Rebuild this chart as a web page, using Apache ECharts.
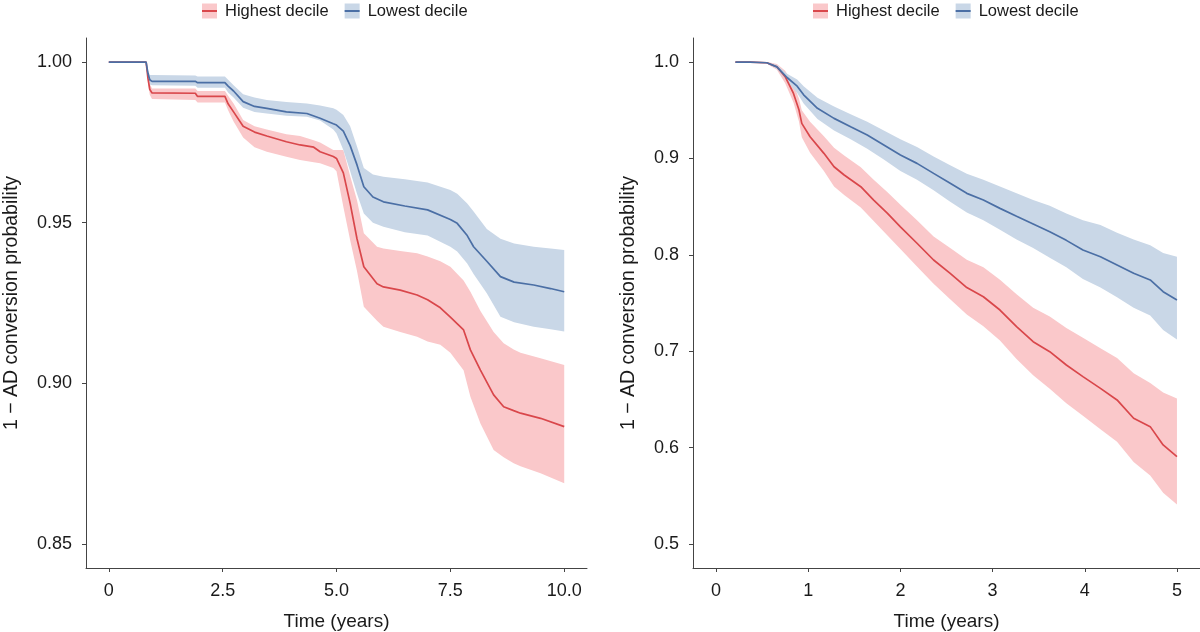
<!DOCTYPE html>
<html>
<head>
<meta charset="utf-8">
<script src="https://cdn.jsdelivr.net/npm/echarts@6/dist/echarts.min.js"></script>
<style>html,body{margin:0;padding:0;background:#fff;}#c{width:1200px;height:632px;}</style>
</head>
<body>
<div id="c"></div>
<script>
// ---------- Data ----------
const seriesNames = ['Highest decile', 'Lowest decile'];
const yTitle = '1 \u2212 AD conversion probability';
const xTitle = 'Time (years)';

// Left panel ticks
const leftXTicks = [0, 2.5, 5, 7.5, 10];
const leftXTickLabels = ['0', '2.5', '5.0', '7.5', '10.0'];
const leftYTicks = [0.85, 0.90, 0.95, 1.00];
const leftYTickLabels = ['0.85', '0.90', '0.95', '1.00'];
// Right panel ticks
const rightXTicks = [0, 1, 2, 3, 4, 5];
const rightXTickLabels = ['0', '1', '2', '3', '4', '5'];
const rightYTicks = [0.5, 0.6, 0.7, 0.8, 0.9, 1.0];
const rightYTickLabels = ['0.5', '0.6', '0.7', '0.8', '0.9', '1.0'];

// Left panel, highest decile
const leftHighTime  = [0, 0.82, 0.86, 0.9, 0.95, 1.9, 1.95, 2.55, 2.62, 2.74, 2.95, 3.2, 3.47, 3.9, 4.2, 4.5, 4.64, 4.93, 5.0, 5.15, 5.3, 5.45, 5.6, 5.89, 6.03, 6.4, 6.77, 7.0, 7.28, 7.5, 7.79, 7.94, 8.16, 8.45, 8.67, 8.89, 9.04, 9.48, 10.0];
const leftHighLine  = [1.0, 1.0, 0.9950, 0.9915, 0.9904, 0.9903, 0.9893, 0.9893, 0.9870, 0.9845, 0.9800, 0.9782, 0.9770, 0.9752, 0.9742, 0.9735, 0.9721, 0.9706, 0.9700, 0.9655, 0.9560, 0.9450, 0.9363, 0.9310, 0.9300, 0.9290, 0.9275, 0.9260, 0.9235, 0.9206, 0.9166, 0.9104, 0.9041, 0.8964, 0.8927, 0.8915, 0.8907, 0.8891, 0.8865];
const leftHighUpper = [1.0, 1.0, 0.9965, 0.9932, 0.9918, 0.9918, 0.9910, 0.9910, 0.9895, 0.9871, 0.9820, 0.9800, 0.9790, 0.9775, 0.9770, 0.9757, 0.9750, 0.9726, 0.9726, 0.9726, 0.9645, 0.9570, 0.9467, 0.9425, 0.9420, 0.9412, 0.9405, 0.9395, 0.9380, 0.9363, 0.9320, 0.9285, 0.9225, 0.9160, 0.9125, 0.9105, 0.9095, 0.9078, 0.9057];
const leftHighLower = [1.0, 1.0, 0.9935, 0.9898, 0.9885, 0.9882, 0.9874, 0.9874, 0.9850, 0.9815, 0.9765, 0.9735, 0.9721, 0.9705, 0.9695, 0.9688, 0.9685, 0.9670, 0.9660, 0.9550, 0.9445, 0.9350, 0.9238, 0.9195, 0.9176, 0.9160, 0.9145, 0.9130, 0.9120, 0.9095, 0.9041, 0.8958, 0.8875, 0.8792, 0.8770, 0.8751, 0.8742, 0.8720, 0.8689];

// Left panel, lowest decile
const leftLowTime  = [0, 0.82, 0.86, 0.9, 0.95, 1.9, 1.95, 2.55, 2.62, 2.74, 2.95, 3.2, 3.47, 3.9, 4.35, 4.64, 4.93, 5.0, 5.15, 5.3, 5.45, 5.6, 5.8, 6.03, 6.5, 7.0, 7.5, 7.65, 7.87, 8.01, 8.3, 8.6, 8.9, 9.33, 9.7, 10.0];
const leftLowLine  = [1.0, 1.0, 0.9965, 0.9945, 0.9940, 0.9940, 0.9936, 0.9936, 0.9925, 0.9910, 0.9877, 0.9862, 0.9856, 0.9845, 0.9840, 0.9825, 0.9808, 0.9804, 0.9785, 0.9740, 0.9680, 0.9612, 0.9580, 0.9565, 0.9552, 0.9540, 0.9510, 0.9498, 0.9460, 0.9425, 0.9380, 0.9332, 0.9315, 0.9306, 0.9295, 0.9285];
const leftLowUpper = [1.0, 1.0, 0.9975, 0.9960, 0.9960, 0.9958, 0.9955, 0.9955, 0.9945, 0.9928, 0.9900, 0.9890, 0.9882, 0.9876, 0.9871, 0.9865, 0.9856, 0.9852, 0.9835, 0.9800, 0.9737, 0.9670, 0.9650, 0.9643, 0.9635, 0.9625, 0.9602, 0.9590, 0.9560, 0.9535, 0.9480, 0.9450, 0.9435, 0.9425, 0.9420, 0.9415];
const leftLowLower = [1.0, 1.0, 0.9952, 0.9930, 0.9928, 0.9926, 0.9920, 0.9920, 0.9905, 0.9890, 0.9858, 0.9845, 0.9840, 0.9833, 0.9830, 0.9818, 0.9790, 0.9778, 0.9726, 0.9660, 0.9590, 0.9529, 0.9500, 0.9487, 0.9470, 0.9460, 0.9425, 0.9410, 0.9373, 0.9340, 0.9280, 0.9207, 0.9190, 0.9176, 0.9168, 0.9161];

// Right panel, highest decile
const rightHighTime  = [0.21, 0.37, 0.38, 0.55, 0.61, 0.66, 0.75, 0.84, 0.90, 0.93, 1.02, 1.17, 1.28, 1.39, 1.57, 1.71, 1.86, 2.0, 2.18, 2.36, 2.54, 2.72, 2.9, 3.08, 3.26, 3.44, 3.62, 3.8, 3.98, 4.17, 4.35, 4.53, 4.71, 4.85, 5.0];
const rightHighLine  = [1.0, 1.0, 0.9993, 0.9993, 0.9970, 0.9951, 0.9848, 0.9675, 0.9502, 0.9364, 0.9225, 0.9053, 0.8914, 0.8828, 0.8707, 0.8568, 0.8430, 0.8290, 0.8120, 0.7946, 0.7808, 0.7660, 0.7565, 0.7427, 0.7254, 0.7098, 0.6995, 0.6857, 0.6736, 0.6614, 0.6494, 0.6304, 0.6217, 0.6027, 0.5906];
const rightHighUpper = [1.0, 1.0, 0.9993, 1.0, 0.999, 0.998, 0.991, 0.977, 0.962, 0.950, 0.938, 0.923, 0.911, 0.903, 0.891, 0.878, 0.865, 0.852, 0.836, 0.819, 0.807, 0.795, 0.787, 0.774, 0.759, 0.745, 0.736, 0.724, 0.714, 0.703, 0.693, 0.677, 0.667, 0.657, 0.651];
const rightHighLower = [1.0, 1.0, 0.9993, 0.9986, 0.995, 0.992, 0.978, 0.958, 0.938, 0.922, 0.906, 0.887, 0.871, 0.862, 0.849, 0.835, 0.820, 0.806, 0.788, 0.770, 0.754, 0.738, 0.726, 0.711, 0.692, 0.675, 0.661, 0.646, 0.633, 0.619, 0.606, 0.585, 0.571, 0.553, 0.541];

// Right panel, lowest decile
const rightLowTime  = [0.21, 0.37, 0.38, 0.55, 0.66, 0.77, 0.88, 0.95, 1.1, 1.28, 1.46, 1.64, 1.82, 2.0, 2.18, 2.36, 2.54, 2.72, 2.9, 3.08, 3.26, 3.44, 3.62, 3.8, 3.98, 4.17, 4.35, 4.53, 4.71, 4.85, 5.0];
const rightLowLine  = [1.0, 1.0, 0.9993, 0.9993, 0.9950, 0.9840, 0.9750, 0.9660, 0.9520, 0.9416, 0.9329, 0.9243, 0.9139, 0.9035, 0.8949, 0.8845, 0.8742, 0.8638, 0.8568, 0.8482, 0.8400, 0.8320, 0.8240, 0.8150, 0.8050, 0.7980, 0.7894, 0.7808, 0.7739, 0.7617, 0.7531];
const rightLowUpper = [1.0, 1.0, 0.9993, 1.0, 0.997, 0.988, 0.982, 0.975, 0.963, 0.954, 0.946, 0.938, 0.929, 0.920, 0.912, 0.902, 0.893, 0.884, 0.878, 0.871, 0.864, 0.857, 0.851, 0.843, 0.836, 0.831, 0.823, 0.816, 0.810, 0.802, 0.798];
const rightLowLower = [1.0, 1.0, 0.9993, 0.9986, 0.993, 0.980, 0.968, 0.957, 0.941, 0.929, 0.920, 0.910, 0.899, 0.887, 0.878, 0.867, 0.855, 0.844, 0.836, 0.826, 0.816, 0.807, 0.797, 0.787, 0.775, 0.766, 0.756, 0.745, 0.737, 0.722, 0.712];

// ---------- Style ----------
const FONT = "'Liberation Sans', Arial, Helvetica, sans-serif";
const RED = '#d9474b', RED_BAND = '#fac8ca';
const BLUE = '#4b6fa5', BLUE_BAND = '#c9d7e7';
const AXIS = '#444';
const TXT = '#1a1a1a';

function lineSeries(name, idx, t, v, color) {
  return {
    type: 'line', name: name, xAxisIndex: idx, yAxisIndex: idx,
    data: t.map((x, i) => [x, v[i]]),
    showSymbol: false, symbol: 'none', silent: true, z: 3,
    lineStyle: { color: color, width: 1.7 },
    itemStyle: { color: color }
  };
}
function bandSeries(name, idx, t, lo, hi, color) {
  return {
    type: 'custom', name: name, xAxisIndex: idx, yAxisIndex: idx, silent: true, z: 1,
    data: t.map((x, i) => [x, lo[i], hi[i]]),
    encode: { x: 0, y: [1, 2] },
    renderItem: function (params, api) {
      if (params.dataIndex !== 0) return null;
      const up = [], dn = [];
      for (let i = 0; i < t.length; i++) {
        up.push(api.coord([t[i], hi[i]]));
        dn.push(api.coord([t[i], lo[i]]));
      }
      return { type: 'polygon', shape: { points: up.concat(dn.reverse()) }, style: { fill: color } };
    }
  };
}
function fmt(ticks, labels) {
  return v => { const k = ticks.findIndex(a => Math.abs(a - v) < 1e-9); return k >= 0 ? labels[k] : ''; };
}
function xAxis(idx, min, max, ticks, labels) {
  return {
    type: 'value', gridIndex: idx, min: min, max: max,
    name: xTitle, nameLocation: 'middle', nameGap: 44,
    nameTextStyle: { fontFamily: FONT, fontSize: 19, color: TXT },
    axisLine: { show: true, onZero: false, lineStyle: { color: AXIS, width: 1 } },
    axisTick: { show: true, length: 4, customValues: ticks, lineStyle: { color: AXIS } },
    axisLabel: { customValues: ticks, margin: 14, fontFamily: FONT, fontSize: 18, color: TXT, formatter: fmt(ticks, labels) },
    splitLine: { show: false }
  };
}
function yAxis(idx, min, max, ticks, labels, gap) {
  return {
    type: 'value', gridIndex: idx, min: min, max: max,
    name: yTitle, nameLocation: 'middle', nameGap: gap, nameRotate: 90,
    nameTextStyle: { fontFamily: FONT, fontSize: 19.5, color: TXT },
    axisLine: { show: true, onZero: false, lineStyle: { color: AXIS, width: 1 } },
    axisTick: { show: true, length: 4, customValues: ticks, lineStyle: { color: AXIS } },
    axisLabel: { customValues: ticks, margin: 14, fontFamily: FONT, fontSize: 18, color: TXT, formatter: fmt(ticks, labels) },
    splitLine: { show: false }
  };
}
function legends(left, bandColors, lineColors) {
  const common = {
    left: left, top: 2, orient: 'horizontal', itemWidth: 15, itemGap: 16,
    selectedMode: false, padding: 0,
    textStyle: { fontFamily: FONT, fontSize: 16.5, lineHeight: 18, padding: [0, 0, 0, 3] }
  };
  return [
    Object.assign({}, common, {
      itemHeight: 15, icon: 'rect', z: 4,
      textStyle: Object.assign({}, common.textStyle, { color: TXT }),
      data: seriesNames.map((n, i) => ({ name: n, itemStyle: { color: bandColors[i], borderWidth: 0 } }))
    }),
    Object.assign({}, common, {
      itemHeight: 2, icon: 'rect', z: 5,
      textStyle: Object.assign({}, common.textStyle, { color: 'rgba(0,0,0,0)' }),
      data: seriesNames.map((n, i) => ({ name: n, itemStyle: { color: lineColors[i], borderWidth: 0 } }))
    })
  ];
}

const chart = echarts.init(document.getElementById('c'), null, { renderer: 'canvas' });
chart.setOption({
  animation: false,
  backgroundColor: '#fff',
  grid: [
    { left: 86, top: 38, width: 501, height: 530, outerBoundsMode: 'none', containLabel: false },
    { left: 693, top: 38, width: 507, height: 530, outerBoundsMode: 'none', containLabel: false }
  ],
  legend: legends(202, [RED_BAND, BLUE_BAND], [RED, BLUE]).concat(legends(813, [RED_BAND, BLUE_BAND], [RED, BLUE])),
  xAxis: [
    xAxis(0, -0.5, 10.5, leftXTicks, leftXTickLabels),
    xAxis(1, -0.25, 5.25, rightXTicks, rightXTickLabels)
  ],
  yAxis: [
    yAxis(0, 0.8425, 1.0075, leftYTicks, leftYTickLabels, 64),
    yAxis(1, 0.475, 1.025, rightYTicks, rightYTickLabels, 54)
  ],
  series: [
    bandSeries('band-high-left', 0, leftHighTime, leftHighLower, leftHighUpper, RED_BAND),
    bandSeries('band-low-left', 0, leftLowTime, leftLowLower, leftLowUpper, BLUE_BAND),
    lineSeries(seriesNames[0], 0, leftHighTime, leftHighLine, RED),
    lineSeries(seriesNames[1], 0, leftLowTime, leftLowLine, BLUE),
    bandSeries('band-high-right', 1, rightHighTime, rightHighLower, rightHighUpper, RED_BAND),
    bandSeries('band-low-right', 1, rightLowTime, rightLowLower, rightLowUpper, BLUE_BAND),
    lineSeries(seriesNames[0], 1, rightHighTime, rightHighLine, RED),
    lineSeries(seriesNames[1], 1, rightLowTime, rightLowLine, BLUE)
  ]
});
</script>
</body>
</html>
